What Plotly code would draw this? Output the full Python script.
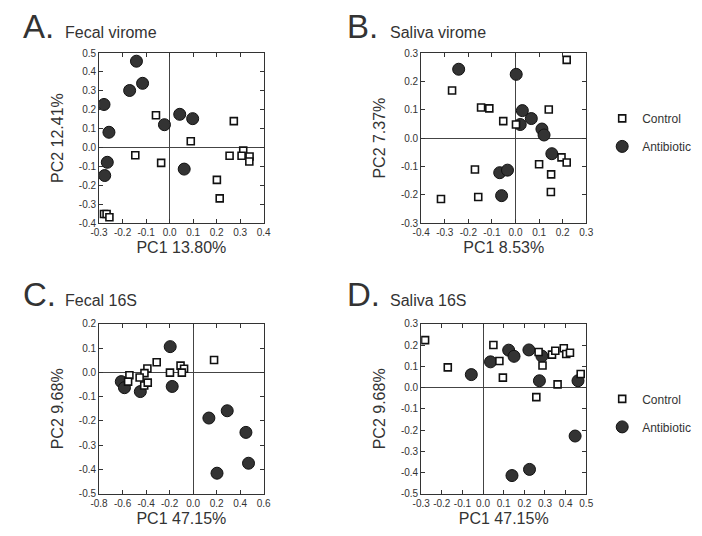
import plotly.graph_objects as go

# ---------------- DATA ----------------
# Panel A: Fecal virome
a_ctrl_x = [-0.058, 0.090, 0.273, -0.146, -0.036, 0.201, 0.213, 0.255, 0.313, 0.306, 0.340, 0.339, -0.279, -0.268, -0.256]
a_ctrl_y = [0.171, 0.033, 0.140, -0.041, -0.081, -0.171, -0.269, -0.043, -0.016, -0.043, -0.047, -0.074, -0.352, -0.352, -0.369]
a_abx_x = [-0.141, -0.170, -0.115, -0.279, -0.258, -0.022, 0.043, 0.098, -0.265, -0.276, 0.062]
a_abx_y = [0.457, 0.302, 0.340, 0.228, 0.081, 0.121, 0.176, 0.153, -0.078, -0.148, -0.114]

# Panel B: Saliva virome
b_ctrl_x = [0.217, -0.269, -0.146, -0.111, -0.052, 0.002, 0.141, 0.100, 0.195, 0.217, 0.151, 0.150, -0.172, -0.158, -0.316]
b_ctrl_y = [0.276, 0.168, 0.108, 0.105, 0.060, 0.048, 0.101, -0.092, -0.068, -0.086, -0.128, -0.190, -0.111, -0.208, -0.215]
b_abx_x = [-0.241, 0.003, 0.029, 0.020, 0.067, 0.112, 0.121, 0.154, -0.067, -0.034, -0.059]
b_abx_y = [0.243, 0.225, 0.097, 0.048, 0.069, 0.032, 0.011, -0.055, -0.122, -0.113, -0.203]

# Panel C: Fecal 16S
c_ctrl_x = [0.178, -0.310, -0.389, -0.414, -0.542, -0.553, -0.455, -0.416, -0.386, -0.197, -0.107, -0.077, -0.096]
c_ctrl_y = [0.051, 0.042, 0.016, -0.003, -0.012, -0.038, -0.021, -0.054, -0.042, -0.001, 0.028, 0.015, -0.001]
c_abx_x = [-0.195, -0.178, -0.611, -0.584, -0.449, 0.134, 0.290, 0.449, 0.471, 0.203]
c_abx_y = [0.106, -0.058, -0.038, -0.063, -0.079, -0.188, -0.158, -0.247, -0.374, -0.415]

# Panel D: Saliva 16S
d_ctrl_x = [-0.281, -0.171, 0.050, 0.079, 0.096, 0.269, 0.288, 0.258, 0.334, 0.350, 0.391, 0.403, 0.421, 0.361, 0.473]
d_ctrl_y = [0.223, 0.095, 0.200, 0.125, 0.047, 0.167, 0.104, -0.045, 0.155, 0.173, 0.185, 0.158, 0.164, 0.015, 0.064]
d_abx_x = [-0.057, 0.036, 0.124, 0.150, 0.222, 0.285, 0.273, 0.460, 0.446, 0.225, 0.140]
d_abx_y = [0.061, 0.121, 0.176, 0.147, 0.177, 0.148, 0.032, 0.032, -0.228, -0.385, -0.414]

# Tick values
a_xticks = [-0.3, -0.2, -0.1, 0.0, 0.1, 0.2, 0.3, 0.4]
a_yticks = [-0.4, -0.3, -0.2, -0.1, 0.0, 0.1, 0.2, 0.3, 0.4, 0.5]
b_xticks = [-0.4, -0.3, -0.2, -0.1, 0.0, 0.1, 0.2, 0.3]
b_yticks = [-0.3, -0.2, -0.1, 0.0, 0.1, 0.2, 0.3]
c_xticks = [-0.8, -0.6, -0.4, -0.2, 0.0, 0.2, 0.4, 0.6]
c_yticks = [-0.5, -0.4, -0.3, -0.2, -0.1, 0.0, 0.1, 0.2]
d_xticks = [-0.3, -0.2, -0.1, 0.0, 0.1, 0.2, 0.3, 0.4, 0.5]
d_yticks = [-0.5, -0.4, -0.3, -0.2, -0.1, 0.0, 0.1, 0.2, 0.3]

panel_letters = ["A.", "B.", "C.", "D."]
panel_titles = ["Fecal virome", "Saliva virome", "Fecal 16S", "Saliva 16S"]
x_titles = ["PC1 13.80%", "PC1 8.53%", "PC1 47.15%", "PC1 47.15%"]
y_titles = ["PC2 12.41%", "PC2 7.37%", "PC2 9.68%", "PC2 9.68%"]
group_names = ["Control", "Antibiotic"]

# ---------------- FIGURE ----------------
# The page body has an 8px default margin; layout is given in window pixels
# and shifted by OFF so the figure lines up with the 702x536 window.
OFF = 8
W, H = 702 - OFF, 536 - OFF
FONT = "Liberation Sans, Arial, sans-serif"
TXT = "#333333"


def px(v):
    return (v - OFF) / W


def py(v):
    return 1 - (v - OFF) / H


fig = go.Figure()

panels = [
    (a_ctrl_x, a_ctrl_y, a_abx_x, a_abx_y, a_xticks, a_yticks),
    (b_ctrl_x, b_ctrl_y, b_abx_x, b_abx_y, b_xticks, b_yticks),
    (c_ctrl_x, c_ctrl_y, c_abx_x, c_abx_y, c_xticks, c_yticks),
    (d_ctrl_x, d_ctrl_y, d_abx_x, d_abx_y, d_xticks, d_yticks),
]

# window-pixel boxes (left, right, top, bottom)
boxes = [(92, 260.5, 48, 222), (421.7, 590.7, 48, 222),
         (92, 260.5, 325, 499), (421.7, 590.7, 325, 499)]

legend_for = {1: "legend", 3: "legend2"}

for i, (cx, cy, ax_, ay_, xt, yt) in enumerate(panels):
    n = "" if i == 0 else str(i + 1)
    xa, ya = "x" + n, "y" + n
    show = i in legend_for
    leg = legend_for.get(i, "legend")
    fig.add_trace(go.Scatter(
        x=ax_, y=ay_, mode="markers", name=group_names[1], xaxis=xa, yaxis=ya,
        marker=dict(symbol="circle", size=12, color="#333333",
                    line=dict(color="#111111", width=1)),
        showlegend=show, legend=leg, legendgroup="abx" + n, legendrank=2))
    fig.add_trace(go.Scatter(
        x=cx, y=cy, mode="markers", name=group_names[0], xaxis=xa, yaxis=ya,
        marker=dict(symbol="square", size=7, color="white",
                    line=dict(color="#111111", width=1.6)),
        showlegend=show, legend=leg, legendgroup="ctrl" + n, legendrank=1))

    l, r, t, b = boxes[i]
    axis_common = dict(
        showline=True, linecolor="#333333", linewidth=1, mirror="ticks",
        ticks="inside", ticklen=4, tickcolor="#333333", tickwidth=1,
        showgrid=False, zeroline=True, zerolinecolor="#444444", zerolinewidth=1,
        tickfont=dict(family=FONT, size=10, color=TXT),
    )
    fig.layout["xaxis" + n] = dict(
        axis_common, domain=[px(l), px(r)], anchor=ya,
        range=[xt[0], xt[-1]], tickvals=xt, ticktext=[f"{v:.1f}" for v in xt],
        title=dict(text=x_titles[i], font=dict(family=FONT, size=16, color=TXT), standoff=4),
    )
    fig.layout["yaxis" + n] = dict(
        axis_common, domain=[py(b), py(t)], anchor=xa,
        range=[yt[0], yt[-1]], tickvals=yt, ticktext=[f"{v:.1f}" for v in yt],
        title=dict(text=y_titles[i], font=dict(family=FONT, size=16, color=TXT), standoff=11),
    )

# panel headings (window pixels)
letter_pos = [(12, 21), (344, 21), (12, 295), (344, 295)]
title_pos = [(55, 27), (388, 27), (55, 301), (388, 301)]
for i in range(4):
    lx, ly = letter_pos[i]
    tx, ty = title_pos[i]
    fig.add_annotation(text=panel_letters[i], xref="paper", yref="paper",
                       x=px(lx), y=py(ly), xanchor="left", yanchor="middle",
                       showarrow=False, font=dict(family=FONT, size=33, color=TXT))
    fig.add_annotation(text=panel_titles[i], xref="paper", yref="paper",
                       x=px(tx), y=py(ty), xanchor="left", yanchor="middle",
                       showarrow=False, font=dict(family=FONT, size=16, color=TXT))

leg_common = dict(font=dict(family=FONT, size=12, color=TXT), bgcolor="rgba(0,0,0,0)",
                  tracegroupgap=9, xanchor="left", yanchor="top", itemsizing="trace")
fig.update_layout(
    width=W, height=H, margin=dict(l=0, r=0, t=0, b=0),
    paper_bgcolor="white", plot_bgcolor="white",
    legend=dict(leg_common, x=px(607), y=py(100)),
    legend2=dict(leg_common, x=px(607), y=py(387)),
)

fig.write_html("out.html")
